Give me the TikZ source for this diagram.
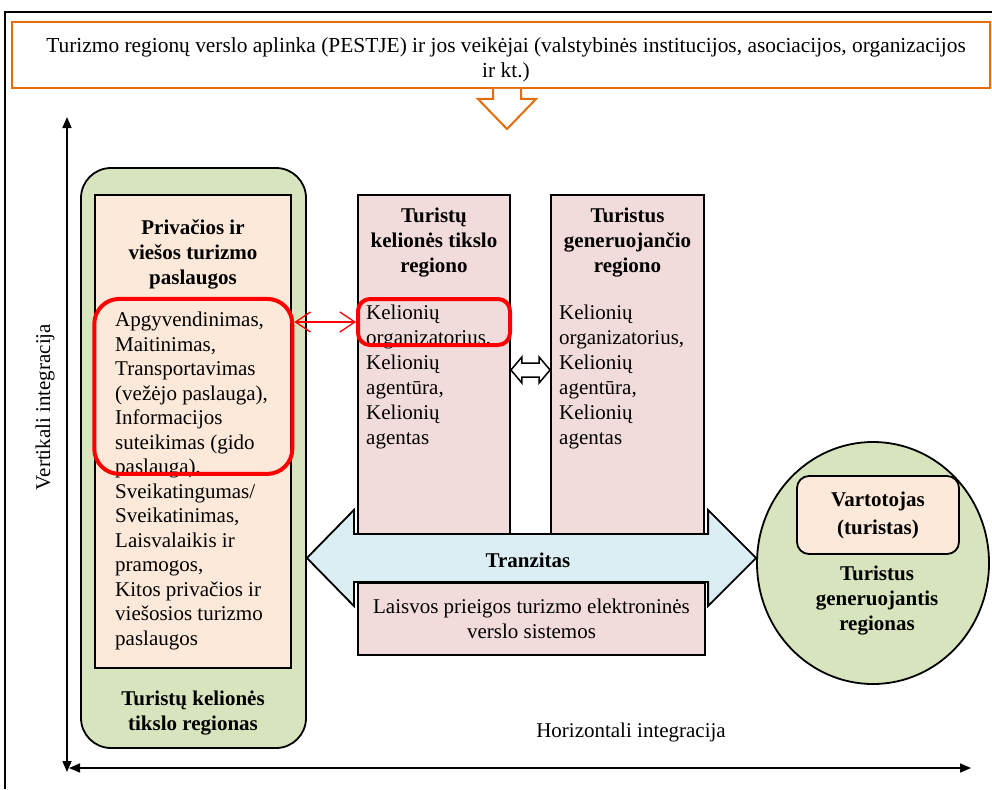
\documentclass[tikz,border=0pt]{standalone}
\usepackage{fontspec}
\setmainfont{Liberation Serif}
\usetikzlibrary{arrows.meta,shapes.geometric,calc}

\definecolor{frameorange}{HTML}{E46C0A}
\definecolor{regiongreen}{HTML}{D7E4BD}
\definecolor{servicepeach}{HTML}{FDE9D9}
\definecolor{agentpink}{HTML}{F2DCDB}
\definecolor{transitblue}{HTML}{DBEEF4}
\definecolor{markred}{HTML}{FF0000}

\begin{document}
\begin{tikzpicture}[x=1pt,y=-1pt,
  every node/.style={inner sep=0pt},
  body/.style={font=\fontsize{21}{24.5}\selectfont},
  heading/.style={font=\fontsize{21}{25}\selectfont\bfseries, align=center},
  panel/.style={rectangle, draw=black, line width=1.8pt},
  redmark/.style={rectangle, draw=markred, line width=4pt},
  intaxis/.style={line width=1.6pt,
    {Triangle[length=11pt,width=9pt]}-{Triangle[length=11pt,width=9pt]}},
]
\useasboundingbox (0,0) rectangle (992,789);

% page frame
\draw[line width=1.2pt] (5,789) -- (5,12) -- (992,12);

% business environment banner with its downward arrow
\node[rectangle, draw=frameorange, line width=2pt, fill=white,
      minimum width=978pt, minimum height=66pt] (env) at (501,55) {};
\node[font=\fontsize{21.4}{25.5}\selectfont, align=center] (envtext) at (506,60)
      {Turizmo regionų verslo aplinka (PESTJE) ir jos veikėjai (valstybinės institucijos, asociacijos, organizacijos\\ir kt.)};
\coordinate (drop) at ($(env.south)+(6,0)$);
\filldraw[fill=white, draw=frameorange, line width=2pt]
  ($(drop)+(-14,0)$) -- ++(0,10) -- ++(-15,0) -- ($(drop)+(0,40)$)
  -- ($(drop)+(29,10)$) -- ++(-15,0) -- ++(0,-10);

% integration axes
\coordinate (vtop) at (67,117);
\coordinate (vbot) at (67,772);
\coordinate (hleft) at (69,768);
\coordinate (hright) at (971,768);
\draw[intaxis] (vbot) -- (vtop);
\draw[intaxis] (hleft) -- (hright);
\node[body, rotate=90] (vlabel) at (45,407) {Vertikali integracija};
\node[body] (hlabel) at (631,732) {Horizontali integracija};

% destination region with its services
\node[panel, fill=regiongreen, rounded corners=30pt,
      minimum width=225pt, minimum height=580pt] (dest) at (193.5,458) {};
\node[panel, fill=servicepeach, minimum width=196pt, minimum height=473pt]
      (services) at (193,431.5) {};
\node[heading] (srvtitle) at (193,254) {Privačios ir\\viešos turizmo\\paslaugos};
\node[body, align=left, anchor=north west] (srvlist) at (115,312)
  {Apgyvendinimas,\\Maitinimas,\\Transportavimas\\(vežėjo paslauga),\\Informacijos\\suteikimas (gido\\paslauga),\\Sveikatingumas/\\Sveikatinimas,\\Laisvalaikis ir\\pramogos,\\Kitos privačios ir\\viešosios turizmo\\paslaugos};
\node[redmark, rounded corners=25pt, minimum width=198pt, minimum height=175pt]
      (srvmark) at (193.3,386.4) {};
\node[heading] (destlabel) at (193,713) {Turistų kelionės\\tikslo regionas};

% intermediaries of both regions
\node[panel, fill=agentpink, minimum width=152pt, minimum height=339pt]
      (destagents) at (434,364.5) {};
\node[panel, fill=agentpink, minimum width=153pt, minimum height=339pt]
      (homeagents) at (627.5,364.5) {};
\node[heading] (desttitle) at (434,243) {Turistų\\kelionės tikslo\\regiono};
\node[heading] (hometitle) at (627.5,243) {Turistus\\generuojančio\\regiono};
\node[body, font=\fontsize{21}{25}\selectfont, align=left, anchor=north west]
      (destlist) at (366,305)
      {Kelionių\\organizatorius,\\Kelionių\\agentūra,\\Kelionių\\agentas};
\node[body, font=\fontsize{21}{25}\selectfont, align=left, anchor=north west]
      (homelist) at (559,305)
      {Kelionių\\organizatorius,\\Kelionių\\agentūra,\\Kelionių\\agentas};
\node[redmark, rounded corners=12pt, minimum width=152pt, minimum height=46pt]
      (orgmark) at (434,322) {};

% generating region
\node[ellipse, draw=black, line width=1.8pt, fill=regiongreen,
      minimum width=232pt, minimum height=242pt] (home) at (873,563) {};
\node[rectangle, rounded corners=12pt, draw=black, line width=1.8pt,
      fill=servicepeach, minimum width=162pt, minimum height=78pt, align=center,
      font=\fontsize{21}{28}\selectfont\bfseries] (tourist) at (878,515)
      {Vartotojas\\(turistas)};
\node[heading] (homelabel) at (877,601) {Turistus\\generuojantis\\regionas};

% transit between the regions
\coordinate (trL) at (dest.east |- 0,558);
\coordinate (trR) at (home.west |- 0,558);
\filldraw[fill=transitblue, draw=black, line width=1.8pt, line join=miter]
  (trL) -- ++(47,-48) -- ++(0,24) -- ($(trR)+(-48,-24)$) -- ++(0,-24)
  -- (trR) -- ++(-48,48) -- ++(0,-24) -- ($(trL)+(47,24)$) -- ++(0,24) -- cycle;
\node[heading] (transit) at (528,560) {Tranzitas};
\node[panel, fill=agentpink, minimum width=347pt, minimum height=72pt,
      body, align=center] (ebiz) at (531.5,619)
      {Laisvos prieigos turizmo elektroninės\\verslo sistemos};

% links between the highlighted services and intermediaries
\draw[markred, line width=1.3pt,
      {Straight Barb[length=15pt,width=20pt]}-{Straight Barb[length=15pt,width=20pt]}]
  (srvmark.east |- orgmark.west) -- (orgmark.west);
\coordinate (linkL) at (destagents.east |- 0,370);
\coordinate (linkR) at (homeagents.west |- 0,370);
\filldraw[fill=white, draw=black, line width=1.5pt, line join=miter]
  (linkL) -- ++(11,-13) -- ++(0,6) -- ($(linkR)+(-11,-7)$) -- ++(0,-6)
  -- (linkR) -- ++(-11,13) -- ++(0,-6) -- ($(linkL)+(11,7)$) -- ++(0,6) -- cycle;
\end{tikzpicture}
\end{document}
